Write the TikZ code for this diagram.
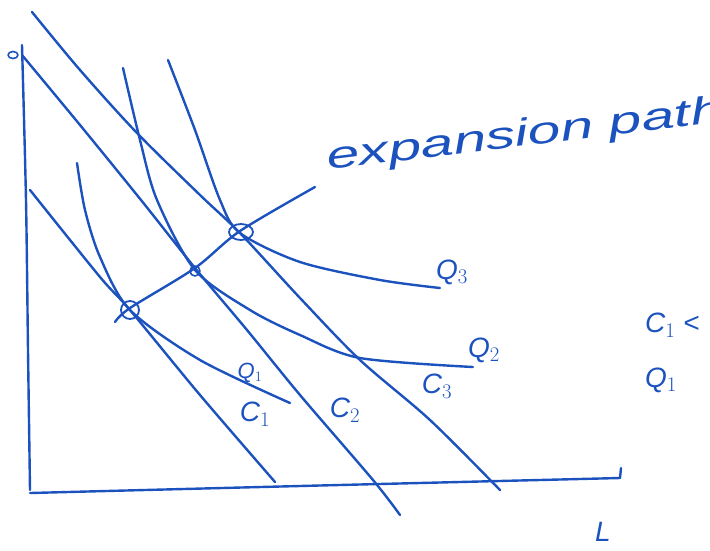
\documentclass[tikz,border=0pt]{standalone}
\usepackage{fontspec}
\setmainfont{Liberation Sans}
\definecolor{ink}{RGB}{28,82,190}
\begin{document}
\begin{tikzpicture}[x=1pt,y=-1pt,
  inkline/.style={draw=ink, line width=2.4pt, line cap=round, line join=round},
  lab/.style={text=ink, font=\fontsize{28}{28}\selectfont\itshape, inner sep=0pt},
  biglab/.style={text=ink, font=\fontsize{38}{38}\selectfont\itshape, inner sep=0pt},
  smalllab/.style={text=ink, font=\fontsize{22}{22}\selectfont\itshape, inner sep=0pt}]
\useasboundingbox (0,0) rectangle (710,550);
\clip (0,0) rectangle (710,550);
% axes
\draw[inkline] plot[smooth] coordinates {(22,45) (26,200) (28,350) (30,490)};
\draw[inkline] plot[smooth] coordinates {(30,493) (300,486) (620,478)} -- (621,468);
\draw[inkline, line width=1.6pt] (13,55) ellipse (5 and 3.5);
% isocost lines
\draw[inkline] plot[smooth] coordinates {(30,190) (100,277) (130,310) (200,395) (275,482)};
\draw[inkline] plot[smooth] coordinates {(22,55) (80,125) (141,200) (195,268) (247,330) (300,395) (373,480) (400,515)};
\draw[inkline] plot[smooth] coordinates {(32,12) (80,70) (137,133) (200,195) (240,233) (300,298) (360,360) (430,420) (500,490)};
% isoquants
\draw[inkline] plot[smooth] coordinates {(77,163) (85,210) (100,257) (130,310) (200,360) (290,403)};
\draw[inkline] plot[smooth] coordinates {(123,68) (140,140) (157,200) (195,270) (250,310) (300,335) (360,358) (473,367)};
\draw[inkline] plot[smooth] coordinates {(168,60) (195,130) (220,200) (240,233) (300,262) (380,280) (440,288)};
% expansion path
\draw[inkline] plot[smooth] coordinates {(115,322) (130,308) (195,268) (240,231) (315,187)};
\draw[inkline, line width=1.8pt] (130,310) circle (9);
\draw[inkline, line width=1.8pt] (241,232) ellipse (12 and 8);
\draw[inkline, line width=1.6pt] (195,271) circle (5);
% labels
\node[biglab, anchor=base west, rotate=7, xscale=1.55] (exp) at (328,170) {expansion path};
\node[lab] (q3) at (452,272) {Q$_3$};
\node[lab] (q2) at (484,350) {Q$_2$};
\node[smalllab] (q1) at (250,373) {Q$_1$};
\node[lab] (c1) at (255,414) {C$_1$};
\node[lab] (c2) at (345,410) {C$_2$};
\node[lab] (c3) at (437,386) {C$_3$};
\node[lab, anchor=west] (c1r) at (645,325) {C$_1$ <};
\node[lab, anchor=west] (q1r) at (645,380) {Q$_1$};
\node[lab] (l) at (603,532) {L};
\end{tikzpicture}
\end{document}
